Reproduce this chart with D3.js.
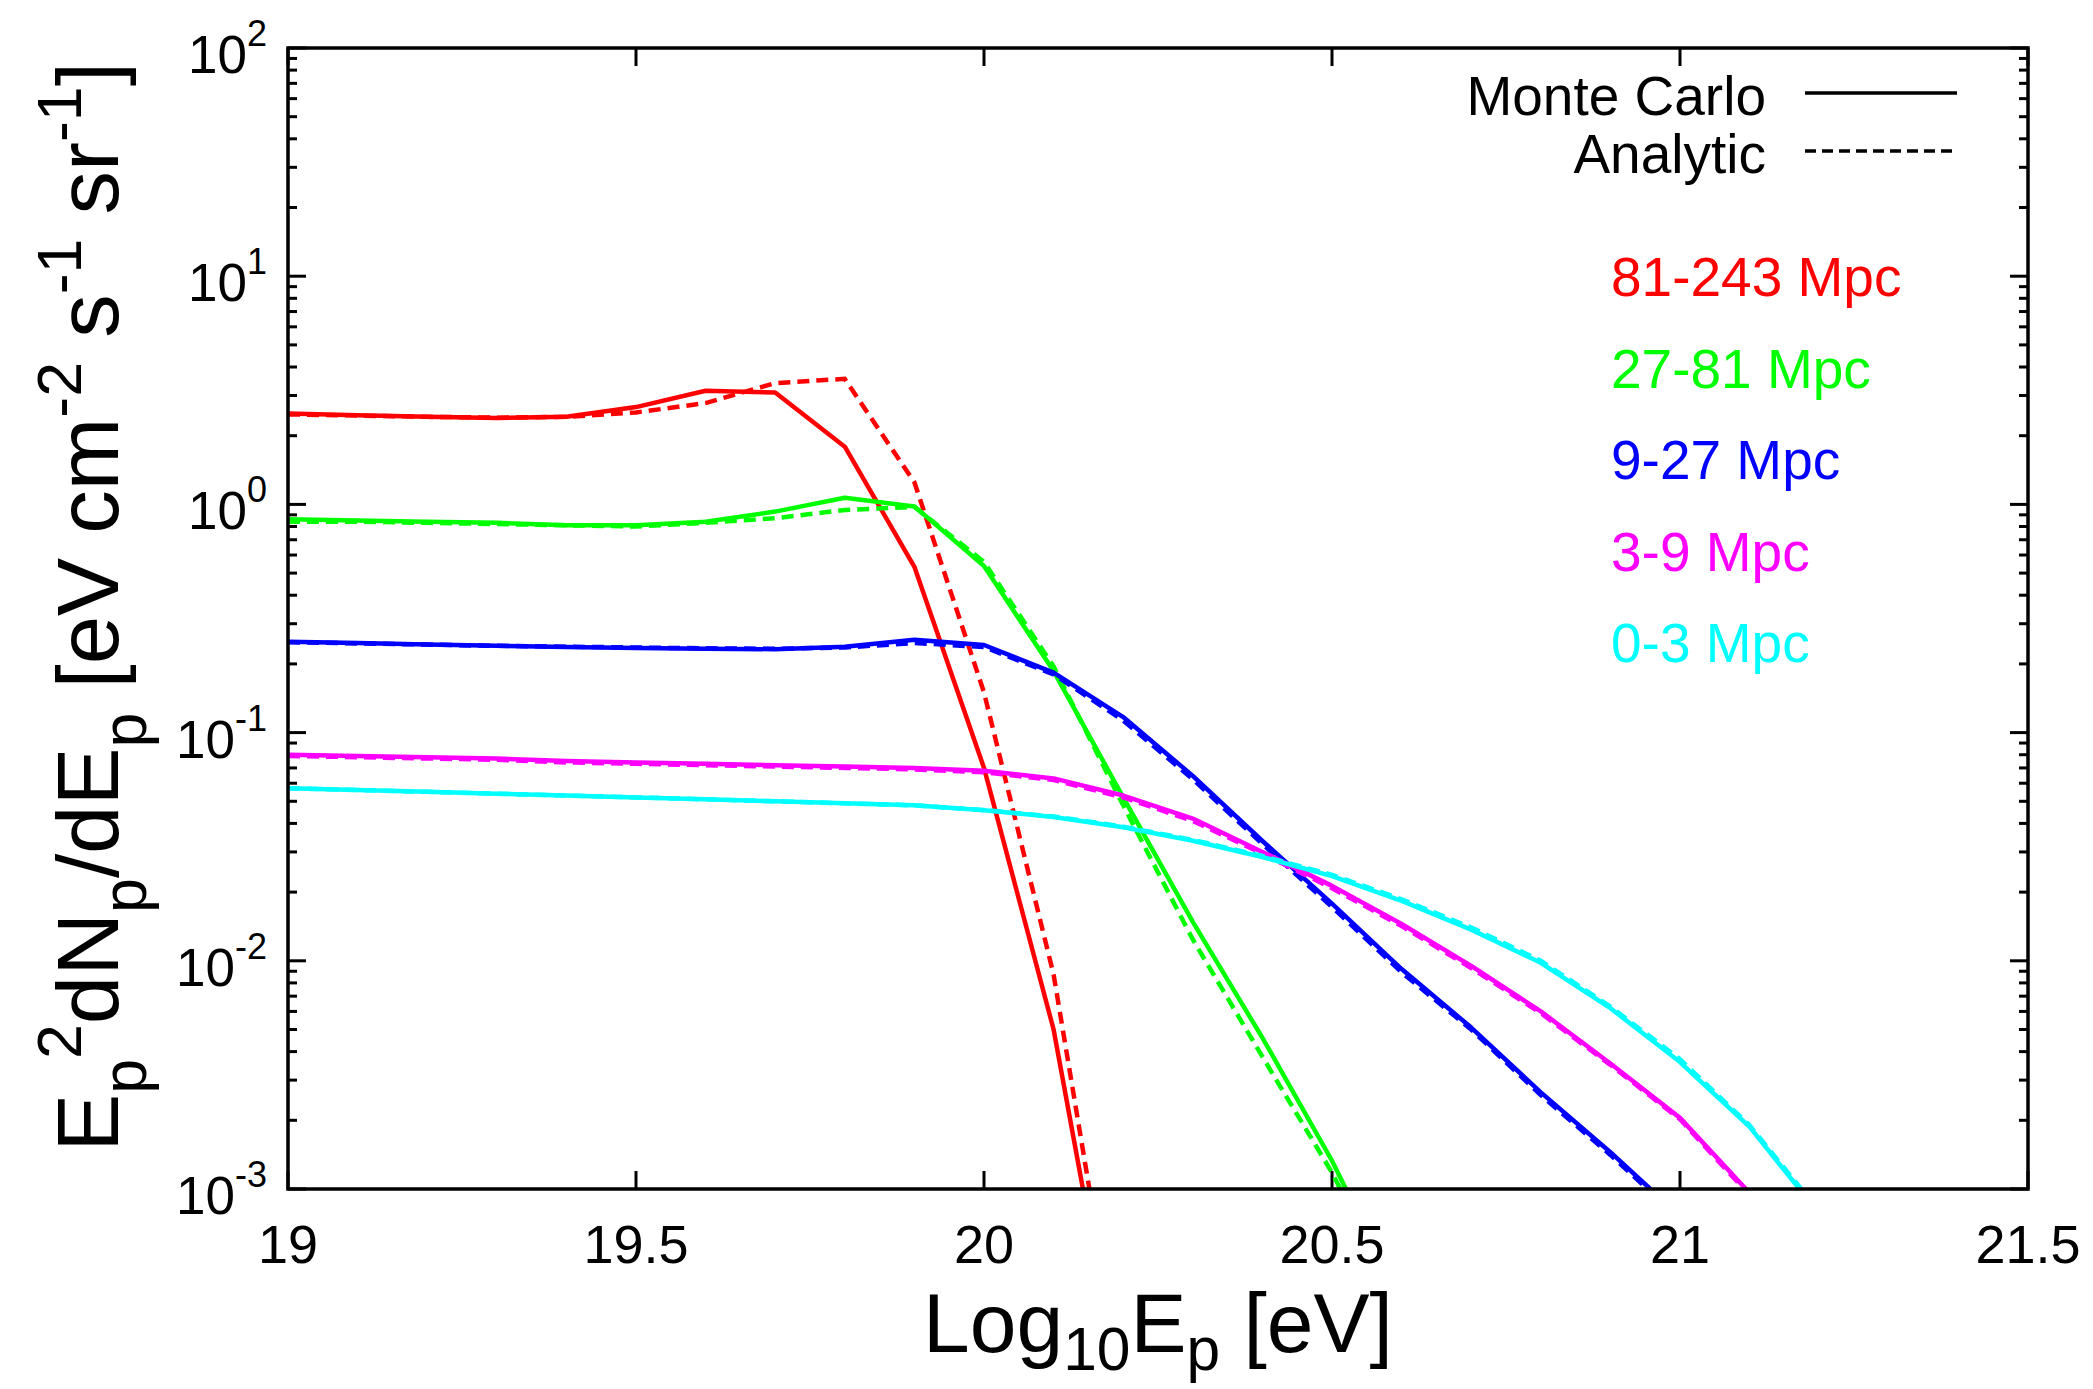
<!DOCTYPE html>
<html>
<head>
<meta charset="utf-8">
<script src="https://cdn.jsdelivr.net/npm/d3@7"></script>
<style>
  html, body { margin: 0; padding: 0; background: #fff; }
  svg { display: block; }
  text { font-family: "Liberation Sans", Arial, Helvetica, sans-serif; }
</style>
</head>
<body>
<svg id="chart" width="2093" height="1389"></svg>
<script>
// ---- data ----
const logE = [19.0, 19.1, 19.2, 19.3, 19.4, 19.5, 19.6, 19.7, 19.8, 19.9, 20.0,
              20.1, 20.2, 20.3, 20.4, 20.5, 20.6, 20.7, 20.8, 20.9, 21.0, 21.1, 21.2];

const distanceLabels = ["81-243 Mpc", "27-81 Mpc", "9-27 Mpc", "3-9 Mpc", "0-3 Mpc"];
const seriesColors = ["#ff0000", "#00ff00", "#0000ff", "#ff00ff", "#00ffff"];

const mc_81_243 = [2.50, 2.46, 2.42, 2.39, 2.42, 2.67, 3.15, 3.09, 1.79, 0.533, 0.070, 0.0050, 0.00011];
const an_81_243 = [2.48, 2.45, 2.42, 2.40, 2.42, 2.53, 2.78, 3.40, 3.55, 1.25, 0.150, 0.0087, 0.00013];

const mc_27_81 = [0.86, 0.85, 0.84, 0.83, 0.81, 0.81, 0.84, 0.93, 1.07, 0.98, 0.537, 0.186, 0.052, 0.0148, 0.0046, 0.00133, 0.00032];
const an_27_81 = [0.84, 0.84, 0.83, 0.82, 0.81, 0.80, 0.83, 0.87, 0.945, 0.975, 0.56, 0.195, 0.048, 0.0124, 0.0038, 0.00118, 0.00030];

const mc_9_27 = [0.250, 0.247, 0.243, 0.240, 0.237, 0.235, 0.233, 0.232, 0.238, 0.255, 0.242, 0.183, 0.117, 0.0646, 0.0335, 0.0178, 0.0092, 0.0051, 0.00265, 0.00145, 0.00076];
const an_9_27 = [0.249, 0.246, 0.243, 0.240, 0.238, 0.236, 0.234, 0.233, 0.236, 0.247, 0.237, 0.180, 0.113, 0.0625, 0.0325, 0.0172, 0.0089, 0.0050, 0.00258, 0.00141, 0.00074];

const mc_3_9 = [0.080, 0.079, 0.078, 0.077, 0.075, 0.074, 0.073, 0.072, 0.071, 0.070, 0.068, 0.063, 0.053, 0.042, 0.030, 0.0213, 0.0145, 0.0095, 0.0060, 0.00355, 0.00205, 0.00096];
const an_3_9 = [0.079, 0.078, 0.077, 0.076, 0.074, 0.073, 0.072, 0.071, 0.070, 0.069, 0.067, 0.062, 0.052, 0.041, 0.0295, 0.0208, 0.0142, 0.0093, 0.0059, 0.00350, 0.00202, 0.00094];

const mc_0_3 = [0.057, 0.056, 0.055, 0.054, 0.053, 0.052, 0.051, 0.050, 0.049, 0.048, 0.0457, 0.0427, 0.0385, 0.0336, 0.0285, 0.0235, 0.0183, 0.0137, 0.0098, 0.0062, 0.0036, 0.00187, 0.00078];
const an_0_3 = [0.057, 0.056, 0.055, 0.054, 0.053, 0.052, 0.051, 0.050, 0.049, 0.048, 0.0458, 0.0429, 0.0387, 0.0339, 0.0288, 0.0238, 0.0186, 0.0140, 0.0100, 0.0063, 0.0037, 0.00190, 0.00080];

const mcSeries = [mc_81_243, mc_27_81, mc_9_27, mc_3_9, mc_0_3];
const anSeries = [an_81_243, an_27_81, an_9_27, an_3_9, an_0_3];

const xTicks = [19, 19.5, 20, 20.5, 21, 21.5];
const xTickLabels = ["19", "19.5", "20", "20.5", "21", "21.5"];
const yDecades = [-3, -2, -1, 0, 1, 2];
const legendStyles = ["Monte Carlo", "Analytic"];

// ---- layout ----
const svg = d3.select("#chart");
const L = 288, R = 2028, T = 48, B = 1189;
const x = d3.scaleLinear().domain([19, 21.5]).range([L, R]);
const y = d3.scaleLog().domain([1e-3, 1e2]).range([B, T]);

svg.append("rect").attr("width", 2093).attr("height", 1389).attr("fill", "#fff");

svg.append("defs").append("clipPath").attr("id", "plotclip")
  .append("rect").attr("x", L).attr("y", T).attr("width", R - L).attr("height", B - T);

// ---- ticks (inward, mirrored) ----
const tickG = svg.append("g").attr("stroke", "#000").attr("stroke-width", 3);
const majorLen = 18, minorLen = 9;
xTicks.forEach(v => {
  const px = x(v);
  tickG.append("line").attr("x1", px).attr("x2", px).attr("y1", B).attr("y2", B - majorLen);
  tickG.append("line").attr("x1", px).attr("x2", px).attr("y1", T).attr("y2", T + majorLen);
});
yDecades.forEach(d => {
  const base = Math.pow(10, d);
  const py = y(base);
  tickG.append("line").attr("x1", L).attr("x2", L + majorLen).attr("y1", py).attr("y2", py);
  tickG.append("line").attr("x1", R).attr("x2", R - majorLen).attr("y1", py).attr("y2", py);
  if (d < 2) {
    for (let m = 2; m <= 9; m++) {
      const pm = y(base * m);
      tickG.append("line").attr("x1", L).attr("x2", L + minorLen).attr("y1", pm).attr("y2", pm);
      tickG.append("line").attr("x1", R).attr("x2", R - minorLen).attr("y1", pm).attr("y2", pm);
    }
  }
});

// ---- curves ----
const line = d3.line().x((d, i) => x(logE[i])).y(d => y(d));
const plotG = svg.append("g").attr("clip-path", "url(#plotclip)");
mcSeries.forEach((s, k) => {
  plotG.append("path").attr("d", line(s)).attr("fill", "none")
    .attr("stroke", seriesColors[k]).attr("stroke-width", 4.5).attr("stroke-linejoin", "round");
  plotG.append("path").attr("d", line(anSeries[k])).attr("fill", "none")
    .attr("stroke", seriesColors[k]).attr("stroke-width", 4.5)
    .attr("stroke-dasharray", "12,7");
});

// ---- frame ----
svg.append("rect").attr("x", L).attr("y", T).attr("width", R - L).attr("height", B - T)
  .attr("fill", "none").attr("stroke", "#000").attr("stroke-width", 3.5);

// ---- tick labels ----
xTicks.forEach((v, i) => {
  svg.append("text").attr("x", x(v)).attr("y", 1263).attr("text-anchor", "middle")
    .attr("font-size", 54).attr("fill", "#000").text(xTickLabels[i]);
});
yDecades.forEach(d => {
  const t = svg.append("text").attr("x", 267).attr("y", y(Math.pow(10, d)) + 25)
    .attr("text-anchor", "end").attr("font-size", 53).attr("fill", "#000");
  t.append("tspan").text("10");
  t.append("tspan").attr("font-size", 36).attr("dy", -27).text(String(d));
});

// ---- rich text helper ----
function rich(sel, parts, F, subOff) {
  let cur = 0;
  parts.forEach(p => {
    let off = 0, fs = F;
    if (p[1] === "sub") { off = subOff * F; fs = 0.72 * F; }
    if (p[1] === "sup") { off = -0.42 * F; fs = 0.72 * F; }
    sel.append("tspan").attr("font-size", fs).attr("dy", off - cur).text(p[0]);
    cur = off;
  });
}

// ---- axis titles ----
const xt = svg.append("text").attr("x", (L + R) / 2).attr("y", 1352)
  .attr("text-anchor", "middle").attr("fill", "#000").attr("font-size", 84);
rich(xt, [["Log"], ["10", "sub"], ["E"], ["p", "sub"], [" [eV]"]], 84, 0.22);

const yt = svg.append("text").attr("transform", "translate(118,607) rotate(-90)")
  .attr("text-anchor", "middle").attr("fill", "#000").attr("font-size", 87);
rich(yt, [["E"], ["p", "sub"], ["2", "sup"], ["dN"], ["p", "sub"], ["/dE"], ["p", "sub"],
          [" [eV cm"], ["-2", "sup"], [" s"], ["-1", "sup"], [" sr"], ["-1", "sup"], ["]"]], 87, 0.32);

// ---- legend ----
legendStyles.forEach((name, i) => {
  const ly = [93, 151][i];
  svg.append("text").attr("x", 1766).attr("y", ly + 22).attr("text-anchor", "end")
    .attr("font-size", 55).attr("fill", "#000").text(name);
  svg.append("line").attr("x1", 1805).attr("x2", 1957).attr("y1", ly).attr("y2", ly)
    .attr("stroke", "#000").attr("stroke-width", 3.5)
    .attr("stroke-dasharray", i === 1 ? "11,6" : null);
});
distanceLabels.forEach((lab, i) => {
  svg.append("text").attr("x", 1611).attr("y", 296 + i * 91.5)
    .attr("font-size", 55).attr("fill", seriesColors[i]).text(lab);
});
</script>
</body>
</html>
